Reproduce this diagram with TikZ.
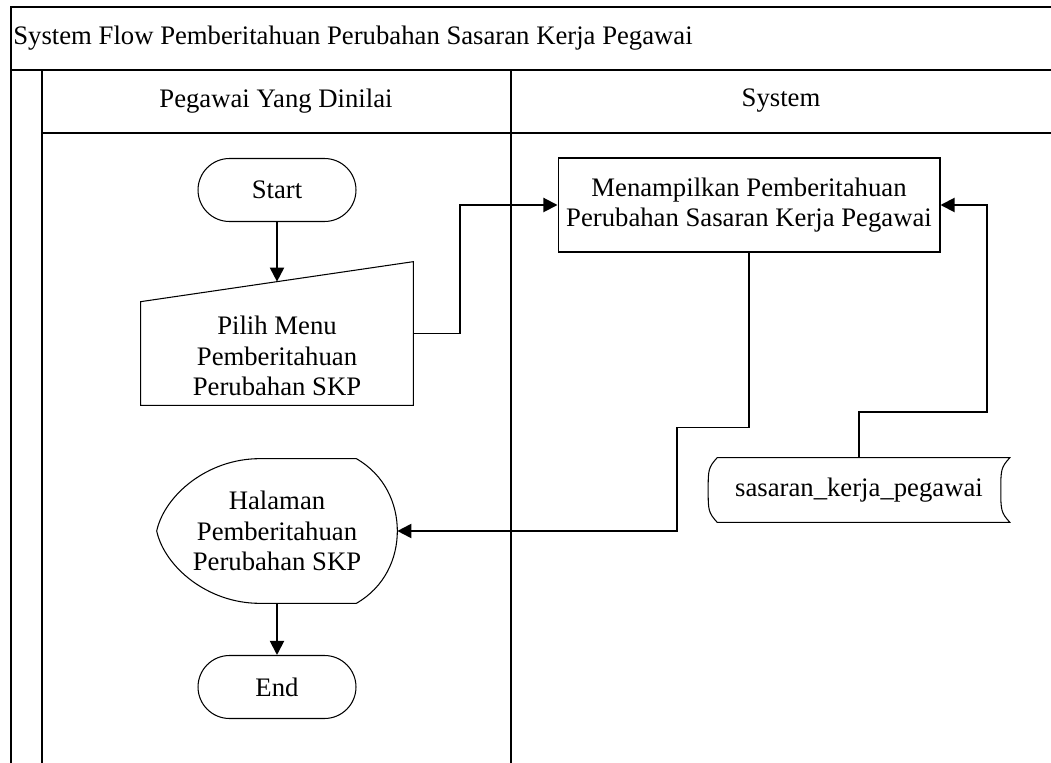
\documentclass[tikz,border=0pt]{standalone}
\usepackage{fontspec}
\setmainfont{Liberation Serif}
\usetikzlibrary{arrows.meta}
\usetikzlibrary{shapes.misc}
\usetikzlibrary{calc}
\tikzset{
	terminal/.style={draw, rounded rectangle, line width=0.6pt, minimum width=3.16cm, minimum height=1.26cm, inner sep=0pt},
	process/.style={draw, rectangle, line width=0.6pt, minimum width=7.64cm, minimum height=1.88cm, align=center, inner sep=0pt},
	outline/.style={rectangle, inner sep=0pt, align=center},
	shapeline/.style={line width=0.6pt},
	lane/.style={line width=0.8pt},
	flow/.style={line width=1.1pt, -{Triangle[length=8pt,width=8pt]}}
}

\begin{document}
\begin{tikzpicture}[x=0.02cm,y=-0.02cm,font=\fontsize{15.2}{17.5}\selectfont]
	\useasboundingbox (0,0) rectangle (1051,763);

	% swimlanes
	\draw[lane] (11,763) -- (11,7) -- (1051,7);
	\draw[line width=1.6pt] (11,70) -- (1051,70);
	\draw[lane] (42,70) -- (42,763);
	\draw[lane] (42,133) -- (1051,133);
	\draw[line width=1.1pt] (511,70) -- (511,763);
	\node[anchor=west, inner sep=0pt] (judul) at (13,38) {System Flow Pemberitahuan Perubahan Sasaran Kerja Pegawai};
	\node (lanepegawai) at (276,101) {Pegawai Yang Dinilai};
	\node (lanesystem) at (781,101) {System};

	\node[terminal] (start) at (277,190) {Start};

	% manual input
	\node[outline, minimum width=5.44cm, minimum height=2.86cm] (pilih) at (277,333.5) {};
	\coordinate (pilihkiri) at ($(pilih.north west)+(0,40)$);
	\coordinate (pilihatas) at ($(pilihkiri)!.5!(pilih.north east)$);
	\draw[shapeline] (pilih.south west) -- (pilih.south east) -- (pilih.north east) -- (pilihkiri) -- cycle;
	\node[align=center] (pilihteks) at (277,356) {Pilih Menu\\Pemberitahuan\\Perubahan SKP};

	\node[process] (tampil) at (749,205) {Menampilkan Pemberitahuan\\Perubahan Sasaran Kerja Pegawai};

	% display
	\node[outline, minimum width=4.8cm, minimum height=2.88cm] (halaman) at (277,531) {Halaman\\Pemberitahuan\\Perubahan SKP};
	\draw[shapeline] ($(halaman.north west)+(103,0)$) -- ($(halaman.north east)+(-41,0)$)
		.. controls +(28,16) and +(0,-28) .. (halaman.east)
		.. controls +(0,28) and +(28,-16) .. ($(halaman.south east)+(-41,0)$)
		-- ($(halaman.south west)+(103,0)$)
		.. controls +(-52,0) and +(8,36) .. (halaman.west)
		.. controls +(8,-36) and +(-52,0) .. ($(halaman.north west)+(103,0)$);

	% stored data
	\node[outline, minimum width=6.02cm, minimum height=1.28cm] (sasaran) at (859,490) {sasaran\_kerja\_pegawai};
	\draw[shapeline] ($(sasaran.north west)+(9,0)$) -- (sasaran.north east)
		.. controls +(-9,10) and +(0,-20) .. ($(sasaran.east)+(-9,0)$)
		.. controls +(0,20) and +(-9,-10) .. (sasaran.south east)
		-- ($(sasaran.south west)+(9,0)$)
		.. controls +(-9,-10) and +(0,20) .. (sasaran.west)
		.. controls +(0,-20) and +(-9,10) .. ($(sasaran.north west)+(9,0)$);

	\node[terminal] (selesai) at (277,687) {End};

	% arrows
	\draw[flow] (start.south) -- (pilihatas);
	\draw[flow] (pilih.east) -- ++(47,0) |- (tampil.west);
	\draw[flow] (tampil.south) -- ++(0,175) -- ++(-72,0) |- (halaman.east);
	\draw[flow] (sasaran.north) -- ++(0,-46) -- ++(128,0) |- (tampil.east);
	\draw[flow] (halaman.south) -- (selesai.north);
\end{tikzpicture}
\end{document}
